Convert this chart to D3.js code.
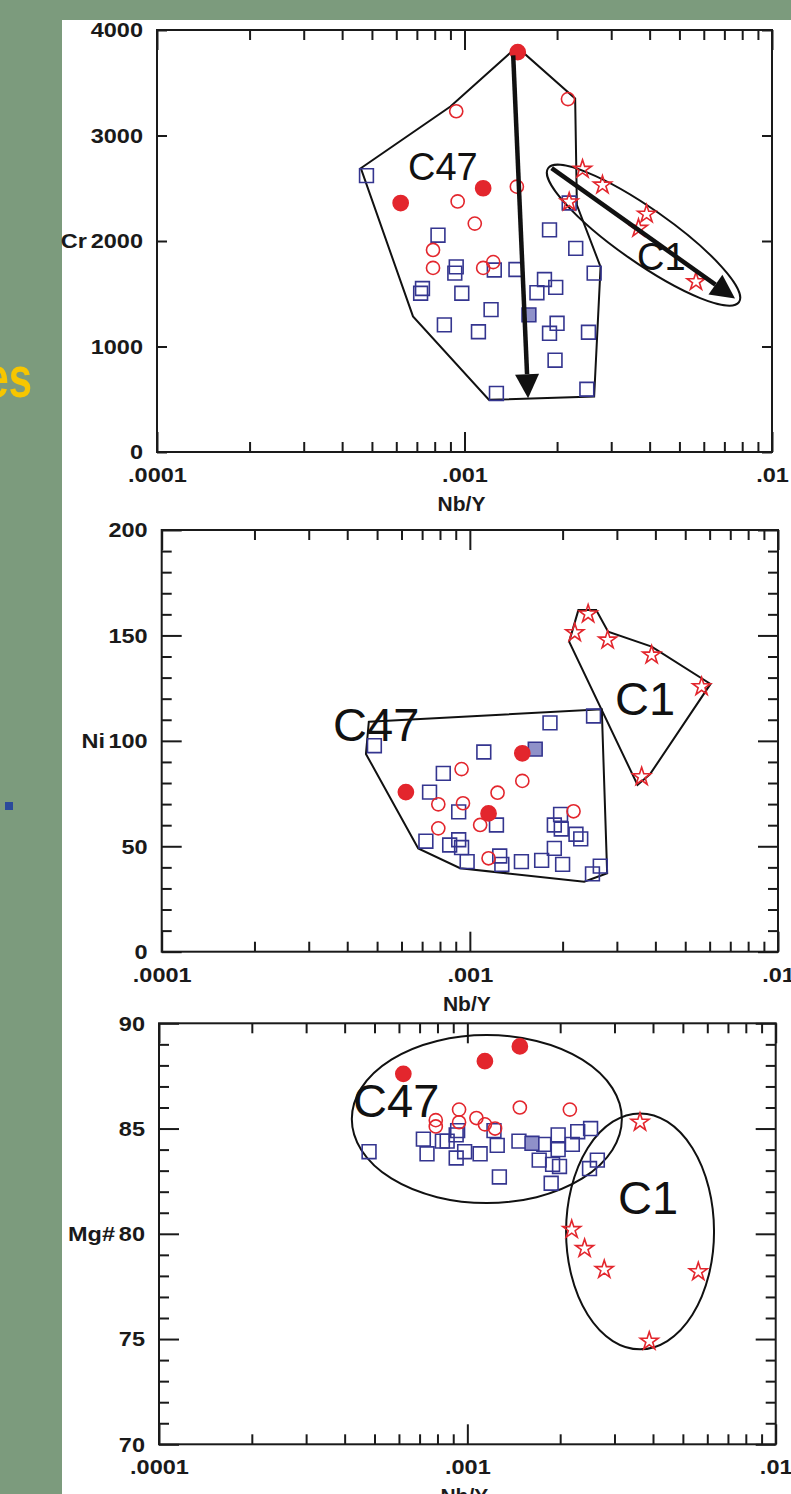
<!DOCTYPE html>
<html>
<head>
<meta charset="utf-8">
<title>Cr, Ni, Mg# vs Nb/Y</title>
<script src="https://d3js.org/d3.v7.min.js"></script>
<style>
  body { margin: 0; background: #7c9b7d; }
  svg { display: block; }
  .tick line { stroke: #1a1a1a; stroke-width: 2px; }
  .tick text, .axis-name {
    font-family: "Liberation Sans", Arial, sans-serif;
    font-weight: bold;
    font-size: 21px;
    fill: #1a1a1a;
  }
  .group-label { font-family: "Liberation Sans", Arial, sans-serif; fill: #111; }
</style>
</head>
<body>
<svg width="791" height="1494"></svg>
<script>
// x axis (shared)
const xMajor = [0.0001, 0.001, 0.01];
const xTickLabels = [".0001", ".001", ".01"];

// Panel 1: Cr vs Nb/Y
const crTicks = [0, 1000, 2000, 3000, 4000];
const crFilled = [[0.00149, 3790], [0.00062, 2360], [0.00115, 2500]];
const crOpen = [[0.00094, 3230], [0.00148, 2515], [0.00095, 2375], [0.00108, 2165], [0.00079, 1915],
  [0.00079, 1745], [0.00115, 1745], [0.00124, 1800], [0.00217, 3345]];
const crSquares = [[0.00048, 2620], [0.00082, 2055], [0.00189, 2105], [0.00094, 1755], [0.00093, 1695],
  [0.00125, 1725], [0.00147, 1730], [0.00073, 1550], [0.00072, 1505], [0.00098, 1505], [0.00122, 1350],
  [0.00086, 1205], [0.00111, 1140], [0.00127, 555], [0.0023, 1930], [0.00264, 1695], [0.00182, 1635],
  [0.00198, 1560], [0.00172, 1510], [0.002, 1220], [0.00189, 1125], [0.00253, 1135], [0.00197, 870],
  [0.0025, 595], [0.00219, 2360]];
const crShaded = [[0.00162, 1300]];
const crStars = [[0.00242, 2680], [0.00281, 2530], [0.00219, 2370], [0.00391, 2255], [0.00368, 2120], [0.00566, 1615]];
const crHullC47 = [[0.00046, 2690], [0.0009, 3275], [0.00148, 3840], [0.00229, 3350], [0.00232, 2340],
  [0.00277, 1755], [0.00264, 525], [0.0012, 495], [0.00068, 1285]];
const crEllipseC1 = [[0.00187, 2690], [0.00781, 1420]]; // ends of the long axis
const crArrows = [[[0.00144, 3760], [0.00161, 510]], [[0.00192, 2690], [0.00758, 1455]]];
const crLabels = [["C47", 0.000655, 2578], ["C1", 0.00364, 1725]];

// Panel 2: Ni vs Nb/Y
const niTicks = [0, 50, 100, 150, 200];
const niFilled = [[0.00062, 75.7], [0.00148, 94.1], [0.00115, 65.6]];
const niOpen = [[0.00094, 86.6], [0.00148, 81.0], [0.00123, 75.4], [0.00079, 69.9], [0.00095, 70.4],
  [0.00079, 58.5], [0.00108, 60.1], [0.00217, 66.6], [0.00115, 44.3]];
const niSquares = [[0.00049, 97.7], [0.00182, 108.5], [0.00252, 111.8], [0.00111, 94.7], [0.00082, 84.6],
  [0.00074, 75.7], [0.00092, 66.3], [0.00122, 60.1], [0.00072, 52.4], [0.00086, 50.6], [0.00092, 53.1],
  [0.00094, 49.4], [0.00098, 42.7], [0.00125, 45.4], [0.00127, 41.4], [0.00147, 42.7], [0.00171, 43.3],
  [0.002, 41.4], [0.00188, 49.0], [0.00197, 65.1], [0.00188, 60.1], [0.00198, 58.2], [0.00221, 55.7],
  [0.00229, 53.5], [0.00265, 40.6], [0.0025, 36.9]];
const niShaded = [[0.00163, 96.1]];
const niStars = [[0.00242, 160.2], [0.00219, 151.3], [0.0028, 147.8], [0.00389, 140.7], [0.00565, 125.7], [0.00361, 83.0]];
const niHullC47 = [[0.00047, 109], [0.00268, 115], [0.00279, 37.2], [0.00235, 33.2], [0.00093, 39.6],
  [0.00068, 49], [0.00046, 93.8]];
const niHullC1 = [[0.00225, 162], [0.00257, 162], [0.00281, 151.8], [0.00389, 144.7], [0.00604, 127],
  [0.00384, 84.1], [0.0035, 79.1], [0.0021, 147]];
const niLabels = [["C47", 0.00036, 99.9], ["C1", 0.00296, 112.3]];

// Panel 3: Mg# vs Nb/Y
const mgTicks = [70, 75, 80, 85, 90];
const mgFilled = [[0.00062, 87.6], [0.00114, 88.2], [0.00148, 88.9]];
const mgOpen = [[0.00094, 85.9], [0.00148, 86.0], [0.00215, 85.9], [0.00079, 85.4], [0.00079, 85.1],
  [0.00094, 85.3], [0.00107, 85.5], [0.00114, 85.2], [0.00123, 85.0]];
const mgSquares = [[0.00048, 83.9], [0.00072, 84.5], [0.00074, 83.8], [0.00083, 84.4], [0.00086, 84.4],
  [0.00093, 84.9], [0.00092, 84.7], [0.00092, 83.6], [0.00098, 83.9], [0.0011, 83.8], [0.00122, 84.9],
  [0.00125, 84.2], [0.00147, 84.4], [0.00127, 82.7], [0.00177, 84.25], [0.00171, 83.5], [0.00197, 84.7],
  [0.00197, 84.0], [0.00189, 83.3], [0.00199, 83.2], [0.00187, 82.4], [0.00219, 84.25], [0.00228, 84.85],
  [0.00251, 85.0], [0.00264, 83.5], [0.00249, 83.1]];
const mgShaded = [[0.00162, 84.3]];
const mgStars = [[0.00363, 85.3], [0.00218, 80.2], [0.0024, 79.3], [0.00278, 78.3], [0.00561, 78.2], [0.00389, 74.9]];
const mgEllipseC47 = [[0.000422, 81.46], [0.00317, 89.44]]; // bounding corners
const mgEllipseC1 = [[0.00209, 74.51], [0.00631, 85.72]];
const mgLabels = [["C47", 0.000426, 85.55], ["C1", 0.00308, 80.94]];

const RED = "#e3262d", NAVY = "#34358f", SHADE = "#8f91c9";

const svg = d3.select("svg");

// slide background bits
svg.append("rect").attr("x", 62).attr("y", 20).attr("width", 729).attr("height", 1474).attr("fill", "#fff");
svg.append("text")
  .attr("transform", "translate(32,397) scale(0.72,1)")
  .attr("text-anchor", "end")
  .attr("font-family", "Liberation Sans, Arial, sans-serif")
  .attr("font-weight", "bold")
  .attr("font-size", 58)
  .attr("fill", "#f7c600")
  .text("es");
svg.append("rect").attr("x", 5).attr("y", 802).attr("width", 8).attr("height", 8).attr("fill", "#2b4a9b");

const panels = [
  { left: 157, right: 772, top: 30, bottom: 452, yDomain: [0, 4000], yTicks: crTicks, yMajorLen: 10, yMinorStep: 0,
    yName: "Cr", yNameAt: 2000, yNameX: 87, labelSize: 38,
    filled: crFilled, open: crOpen, squares: crSquares, shaded: crShaded, stars: crStars,
    hulls: [crHullC47], boxEllipses: [], axisEllipses: [crEllipseC1], arrows: crArrows, labels: crLabels },
  { left: 161.7, right: 778, top: 530, bottom: 951.7, yDomain: [0, 200], yTicks: niTicks, yMajorLen: 20, yMinorStep: 10,
    yName: "Ni", yNameAt: 100, yNameX: 105, labelSize: 47,
    filled: niFilled, open: niOpen, squares: niSquares, shaded: niShaded, stars: niStars,
    hulls: [niHullC47, niHullC1], boxEllipses: [], axisEllipses: [], arrows: [], labels: niLabels },
  { left: 159, right: 775.7, top: 1023.3, bottom: 1444.3, yDomain: [70, 90], yTicks: mgTicks, yMajorLen: 20, yMinorStep: 1,
    yName: "Mg#", yNameAt: 80, yNameX: 115, labelSize: 47,
    filled: mgFilled, open: mgOpen, squares: mgSquares, shaded: mgShaded, stars: mgStars,
    hulls: [], boxEllipses: [mgEllipseC47, mgEllipseC1], axisEllipses: [], arrows: [], labels: mgLabels }
];

const STRETCH = 1.12;

function drawPanel(p) {
  const x = d3.scaleLog().domain([1e-4, 1e-2]).range([p.left, p.right]);
  const y = d3.scaleLinear().domain(p.yDomain).range([p.bottom, p.top]);
  const g = svg.append("g");

  const isMajorX = v => xMajor.some(m => Math.abs(v / m - 1) < 1e-6);
  const xMinor = x.ticks().filter(v => !isMajorX(v));
  const yMinor = p.yMinorStep
    ? d3.range(p.yDomain[0], p.yDomain[1] + 1e-9, p.yMinorStep).filter(v => !p.yTicks.includes(v))
    : [];

  const tickOnly = (axis, vals, len, tx, ty) => g.append("g")
    .attr("transform", `translate(${tx},${ty})`)
    .call(axis.tickValues(vals).tickSize(-len).tickSizeOuter(0).tickFormat(""))
    .call(a => a.select(".domain").remove());

  // inward ticks on all four sides
  tickOnly(d3.axisTop(x), xMinor, 10, 0, p.top);
  tickOnly(d3.axisTop(x), xMajor, 20, 0, p.top);
  tickOnly(d3.axisBottom(x), xMinor, 10, 0, p.bottom);
  tickOnly(d3.axisLeft(y), yMinor, 10, p.left, 0);
  tickOnly(d3.axisRight(y), yMinor, 10, p.right, 0);
  tickOnly(d3.axisRight(y), p.yTicks, p.yMajorLen, p.right, 0);

  // bottom axis with labels
  g.append("g").attr("transform", `translate(0,${p.bottom})`)
    .call(d3.axisBottom(x).tickValues(xMajor).tickSize(-20).tickSizeOuter(0).tickPadding(15)
      .tickFormat((d, i) => xTickLabels[i]))
    .call(a => a.select(".domain").remove())
    .call(a => a.selectAll(".tick text").attr("transform", `scale(${STRETCH},1)`));

  // left axis with labels
  g.append("g").attr("transform", `translate(${p.left},0)`)
    .call(d3.axisLeft(y).tickValues(p.yTicks).tickSize(-p.yMajorLen).tickSizeOuter(0).tickPadding(14)
      .tickFormat(d3.format("d")))
    .call(a => a.select(".domain").remove())
    .call(a => a.selectAll(".tick text").attr("x", null)
      .attr("transform", `translate(-14,0) scale(${STRETCH},1)`));

  // frame
  g.append("rect")
    .attr("x", p.left).attr("y", p.top)
    .attr("width", p.right - p.left).attr("height", p.bottom - p.top)
    .attr("fill", "none").attr("stroke", "#1a1a1a").attr("stroke-width", 2);

  // axis names
  g.append("text").attr("class", "axis-name")
    .attr("text-anchor", "end").attr("dy", "0.32em")
    .attr("transform", `translate(${p.yNameX},${y(p.yNameAt)}) scale(${STRETCH},1)`)
    .text(p.yName);
  g.append("text").attr("class", "axis-name")
    .attr("text-anchor", "middle")
    .attr("x", x(0.001) - 3).attr("y", p.bottom + 59)
    .text("Nb/Y");

  // field outlines
  const line = d3.line().x(d => x(d[0])).y(d => y(d[1])).curve(d3.curveLinearClosed);
  g.append("g").selectAll("path").data(p.hulls).join("path")
    .attr("d", line).attr("fill", "none").attr("stroke", "#111").attr("stroke-width", 2);

  g.append("g").selectAll("ellipse").data(p.boxEllipses).join("ellipse")
    .attr("cx", d => (x(d[0][0]) + x(d[1][0])) / 2)
    .attr("cy", d => (y(d[0][1]) + y(d[1][1])) / 2)
    .attr("rx", d => Math.abs(x(d[1][0]) - x(d[0][0])) / 2)
    .attr("ry", d => Math.abs(y(d[1][1]) - y(d[0][1])) / 2)
    .attr("fill", "none").attr("stroke", "#111").attr("stroke-width", 2);

  g.append("g").selectAll("ellipse").data(p.axisEllipses).join("ellipse")
    .each(function (d) {
      const x1 = x(d[0][0]), y1 = y(d[0][1]), x2 = x(d[1][0]), y2 = y(d[1][1]);
      const cx = (x1 + x2) / 2, cy = (y1 + y2) / 2;
      const a = Math.hypot(x2 - x1, y2 - y1) / 2;
      const ang = Math.atan2(y2 - y1, x2 - x1) * 180 / Math.PI;
      d3.select(this).attr("cx", cx).attr("cy", cy).attr("rx", a).attr("ry", a * 0.23)
        .attr("transform", `rotate(${ang},${cx},${cy})`);
    })
    .attr("fill", "none").attr("stroke", "#111").attr("stroke-width", 2);

  // markers
  const mark = (data, type, size, fill, stroke) => g.append("g").selectAll("path").data(data).join("path")
    .attr("transform", d => `translate(${x(d[0])},${y(d[1])})`)
    .attr("d", d3.symbol().type(type).size(size)())
    .attr("fill", fill).attr("stroke", stroke).attr("stroke-width", 1.6);

  mark(p.squares, d3.symbolSquare, 190, "none", NAVY);
  mark(p.shaded, d3.symbolSquare, 190, SHADE, NAVY);
  mark(p.open, d3.symbolCircle, 135, "none", RED);
  mark(p.filled, d3.symbolCircle, 180, RED, RED);
  mark(p.stars, d3.symbolStar, 100, "none", RED);

  // group labels
  g.append("g").selectAll("text").data(p.labels).join("text")
    .attr("class", "group-label")
    .attr("x", d => x(d[1])).attr("y", d => y(d[2]))
    .attr("font-size", p.labelSize)
    .text(d => d[0]);

  // trend arrows
  p.arrows.forEach(([s, e]) => {
    const x1 = x(s[0]), y1 = y(s[1]), x2 = x(e[0]), y2 = y(e[1]);
    const len = Math.hypot(x2 - x1, y2 - y1);
    const ux = (x2 - x1) / len, uy = (y2 - y1) / len;
    const head = 24, half = 12;
    const bx = x2 - ux * head, by = y2 - uy * head;
    g.append("line").attr("x1", x1).attr("y1", y1).attr("x2", bx).attr("y2", by)
      .attr("stroke", "#111").attr("stroke-width", 4.5);
    g.append("path")
      .attr("d", `M${x2},${y2}L${bx - uy * half},${by + ux * half}L${bx + uy * half},${by - ux * half}Z`)
      .attr("fill", "#111");
  });
}

panels.forEach(drawPanel);
</script>
</body>
</html>
